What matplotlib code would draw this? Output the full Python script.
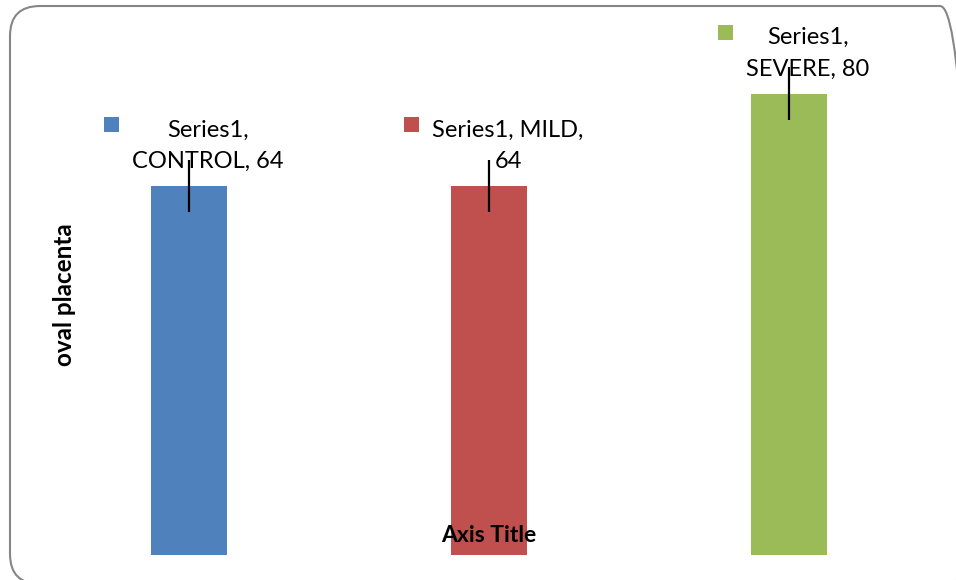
import matplotlib
matplotlib.use("Agg")
import matplotlib.pyplot as plt
from matplotlib.patches import FancyBboxPatch, Rectangle
from matplotlib.transforms import IdentityTransform

# data
categories = ['CONTROL', 'MILD', 'SEVERE']
values = [64, 64, 80]
errors = [4.5, 4.5, 4.6]
series_name = 'Series1'
colors = ['#4F81BD', '#C0504D', '#9BBB59']

plt.rcParams['font.family'] = ['Lato', 'DejaVu Sans']

fig = plt.figure(figsize=(9.56, 5.8), dpi=100)
# plot area in pixels: x 39..939, baseline at y=555 (from top)
ax = fig.add_axes([39 / 956, 25 / 580, 900 / 956, 519 / 580])
ax.set_axisbelow(False)

x = list(range(len(categories)))
ax.bar(x, values, width=0.253, color=colors, zorder=1,
       yerr=errors, error_kw=dict(ecolor='black', elinewidth=1.6, capsize=0, zorder=5))

ax.set_xlim(-0.5, 2.5)
ax.set_ylim(0, 90)
ax.set_xticks([])
ax.set_yticks([])
for s in ax.spines.values():
    s.set_visible(False)

ax.set_xlabel('Axis Title', fontsize=16.5, fontweight='bold')
ax.xaxis.set_label_coords(0.5, (555 - 535) / 519)
ax.xaxis.label.set_va('center')
ax.set_ylabel('oval placenta', fontsize=17.5, fontweight='bold')
ax.yaxis.set_label_coords((64 - 39) / 900, (555 - 295) / 519)
ax.yaxis.label.set_va('center')

# data labels
texts = []
for i, (cat, v) in enumerate(zip(categories, values)):
    if cat == 'MILD':
        label = f'{series_name}, {cat},\n{v}'
    else:
        label = f'{series_name},\n{cat}, {v}'
    t = ax.annotate(label, (i, v), xytext=(19, 18), textcoords='offset pixels',
                    ha='center', va='baseline', multialignment='center',
                    fontsize=17, linespacing=1.62, zorder=3)
    texts.append(t)

# rounded chart border
border = FancyBboxPatch((10, -4), 960, 578, boxstyle='round,pad=0,rounding_size=30',
                        transform=IdentityTransform(), fill=False,
                        edgecolor='#868686', linewidth=1.5, clip_on=False)
fig.add_artist(border)

# legend keys beside the data labels
fig.canvas.draw()
renderer = fig.canvas.get_renderer()
for i, (t, v) in enumerate(zip(texts, values)):
    bb = t.get_window_extent(renderer)
    top_px = ax.transData.transform((i, v))[1]
    key = Rectangle((bb.x0 - 28, top_px + 54), 15, 15, transform=IdentityTransform(),
                    facecolor=colors[i], edgecolor='none', clip_on=False)
    fig.add_artist(key)

fig.savefig('out.png', dpi=100)
